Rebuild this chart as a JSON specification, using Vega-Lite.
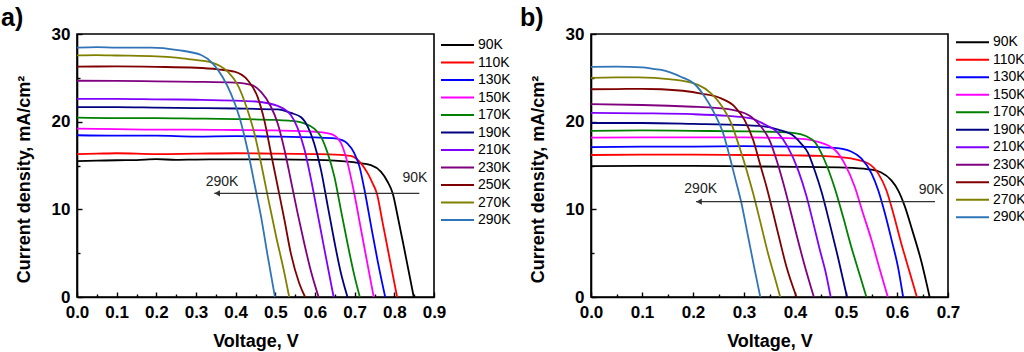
{
  "$schema": "https://vega.github.io/schema/vega-lite/v6.json",
  "padding": {"left": 0, "top": 5, "right": 0, "bottom": 0},
  "bounds": "flush",
  "spacing": 157,
  "datasets": {
    "curves_a": [
      {"T":"90K","V":0,"J":15.5},{"T":"90K","V":0.05,"J":15.55},{"T":"90K","V":0.1,"J":15.6},{"T":"90K","V":0.15,"J":15.62},{"T":"90K","V":0.2,"J":15.72},{"T":"90K","V":0.25,"J":15.65},{"T":"90K","V":0.3,"J":15.68},{"T":"90K","V":0.4,"J":15.7},{"T":"90K","V":0.5,"J":15.7},{"T":"90K","V":0.6,"J":15.65},{"T":"90K","V":0.65,"J":15.55},{"T":"90K","V":0.708,"J":15.3},{"T":"90K","V":0.741,"J":15.05},{"T":"90K","V":0.766,"J":14.3},{"T":"90K","V":0.783,"J":13.15},{"T":"90K","V":0.796,"J":11.8},{"T":"90K","V":0.808,"J":9.3},{"T":"90K","V":0.825,"J":5.5},{"T":"90K","V":0.849,"J":0},
      {"T":"110K","V":0,"J":16.3},{"T":"110K","V":0.05,"J":16.35},{"T":"110K","V":0.1,"J":16.4},{"T":"110K","V":0.2,"J":16.3},{"T":"110K","V":0.3,"J":16.35},{"T":"110K","V":0.4,"J":16.4},{"T":"110K","V":0.5,"J":16.35},{"T":"110K","V":0.6,"J":16.3},{"T":"110K","V":0.65,"J":16.25},{"T":"110K","V":0.69,"J":16.1},{"T":"110K","V":0.716,"J":15.25},{"T":"110K","V":0.733,"J":14.1},{"T":"110K","V":0.745,"J":13.0},{"T":"110K","V":0.756,"J":11.8},{"T":"110K","V":0.77,"J":8.6},{"T":"110K","V":0.785,"J":5.1},{"T":"110K","V":0.807,"J":0},
      {"T":"130K","V":0,"J":18.45},{"T":"130K","V":0.1,"J":18.4},{"T":"130K","V":0.2,"J":18.4},{"T":"130K","V":0.3,"J":18.3},{"T":"130K","V":0.4,"J":18.35},{"T":"130K","V":0.5,"J":18.3},{"T":"130K","V":0.6,"J":18.2},{"T":"130K","V":0.65,"J":18.1},{"T":"130K","V":0.668,"J":17.9},{"T":"130K","V":0.682,"J":17.5},{"T":"130K","V":0.699,"J":16.4},{"T":"130K","V":0.712,"J":14.9},{"T":"130K","V":0.724,"J":12.4},{"T":"130K","V":0.741,"J":8.2},{"T":"130K","V":0.758,"J":4.1},{"T":"130K","V":0.777,"J":0},
      {"T":"150K","V":0,"J":19.2},{"T":"150K","V":0.1,"J":19.15},{"T":"150K","V":0.2,"J":19.1},{"T":"150K","V":0.3,"J":19.1},{"T":"150K","V":0.4,"J":19.05},{"T":"150K","V":0.5,"J":19.0},{"T":"150K","V":0.6,"J":18.85},{"T":"150K","V":0.63,"J":18.7},{"T":"150K","V":0.65,"J":18.4},{"T":"150K","V":0.665,"J":17.6},{"T":"150K","V":0.682,"J":15.3},{"T":"150K","V":0.699,"J":11.8},{"T":"150K","V":0.716,"J":7.7},{"T":"150K","V":0.733,"J":3.6},{"T":"150K","V":0.748,"J":0},
      {"T":"170K","V":0,"J":20.45},{"T":"170K","V":0.1,"J":20.4},{"T":"170K","V":0.2,"J":20.4},{"T":"170K","V":0.3,"J":20.35},{"T":"170K","V":0.4,"J":20.3},{"T":"170K","V":0.5,"J":20.2},{"T":"170K","V":0.539,"J":20.1},{"T":"170K","V":0.573,"J":19.8},{"T":"170K","V":0.598,"J":19.2},{"T":"170K","V":0.615,"J":18.3},{"T":"170K","V":0.632,"J":16.4},{"T":"170K","V":0.649,"J":13.7},{"T":"170K","V":0.665,"J":10.0},{"T":"170K","V":0.682,"J":6.1},{"T":"170K","V":0.699,"J":2.5},{"T":"170K","V":0.713,"J":0},
      {"T":"190K","V":0,"J":21.65},{"T":"190K","V":0.1,"J":21.65},{"T":"190K","V":0.2,"J":21.6},{"T":"190K","V":0.3,"J":21.55},{"T":"190K","V":0.4,"J":21.5},{"T":"190K","V":0.506,"J":21.4},{"T":"190K","V":0.539,"J":21.0},{"T":"190K","V":0.565,"J":20.5},{"T":"190K","V":0.582,"J":19.4},{"T":"190K","V":0.598,"J":17.5},{"T":"190K","V":0.615,"J":14.5},{"T":"190K","V":0.632,"J":10.4},{"T":"190K","V":0.649,"J":6.3},{"T":"190K","V":0.665,"J":2.8},{"T":"190K","V":0.682,"J":0},
      {"T":"210K","V":0,"J":22.6},{"T":"210K","V":0.1,"J":22.6},{"T":"210K","V":0.2,"J":22.55},{"T":"210K","V":0.3,"J":22.5},{"T":"210K","V":0.4,"J":22.4},{"T":"210K","V":0.45,"J":22.3},{"T":"210K","V":0.506,"J":21.8},{"T":"210K","V":0.539,"J":20.76},{"T":"210K","V":0.556,"J":19.3},{"T":"210K","V":0.573,"J":16.9},{"T":"210K","V":0.59,"J":13.4},{"T":"210K","V":0.607,"J":9.4},{"T":"210K","V":0.623,"J":5.6},{"T":"210K","V":0.647,"J":0},
      {"T":"230K","V":0,"J":24.67},{"T":"230K","V":0.1,"J":24.65},{"T":"230K","V":0.2,"J":24.6},{"T":"230K","V":0.3,"J":24.55},{"T":"230K","V":0.397,"J":24.45},{"T":"230K","V":0.439,"J":24.2},{"T":"230K","V":0.464,"J":23.4},{"T":"230K","V":0.489,"J":21.7},{"T":"230K","V":0.506,"J":19.8},{"T":"230K","V":0.523,"J":16.8},{"T":"230K","V":0.539,"J":13.35},{"T":"230K","V":0.556,"J":9.6},{"T":"230K","V":0.573,"J":6.1},{"T":"230K","V":0.59,"J":2.9},{"T":"230K","V":0.609,"J":0},
      {"T":"250K","V":0,"J":26.27},{"T":"250K","V":0.1,"J":26.3},{"T":"250K","V":0.2,"J":26.25},{"T":"250K","V":0.3,"J":26.15},{"T":"250K","V":0.355,"J":25.97},{"T":"250K","V":0.397,"J":25.7},{"T":"250K","V":0.43,"J":24.75},{"T":"250K","V":0.455,"J":22.85},{"T":"250K","V":0.472,"J":20.2},{"T":"250K","V":0.489,"J":16.4},{"T":"250K","V":0.506,"J":12.6},{"T":"250K","V":0.523,"J":8.78},{"T":"250K","V":0.539,"J":5.0},{"T":"250K","V":0.56,"J":1.6},{"T":"250K","V":0.575,"J":0},
      {"T":"270K","V":0,"J":27.56},{"T":"270K","V":0.05,"J":27.6},{"T":"270K","V":0.1,"J":27.55},{"T":"270K","V":0.2,"J":27.45},{"T":"270K","V":0.25,"J":27.3},{"T":"270K","V":0.287,"J":27.1},{"T":"270K","V":0.338,"J":26.77},{"T":"270K","V":0.38,"J":25.7},{"T":"270K","V":0.405,"J":24.2},{"T":"270K","V":0.43,"J":21.3},{"T":"270K","V":0.447,"J":18.7},{"T":"270K","V":0.464,"J":15.25},{"T":"270K","V":0.481,"J":11.45},{"T":"270K","V":0.502,"J":6.9},{"T":"270K","V":0.523,"J":2.7},{"T":"270K","V":0.535,"J":0},
      {"T":"290K","V":0,"J":28.44},{"T":"290K","V":0.05,"J":28.5},{"T":"290K","V":0.1,"J":28.45},{"T":"290K","V":0.187,"J":28.45},{"T":"290K","V":0.254,"J":28.17},{"T":"290K","V":0.313,"J":27.6},{"T":"290K","V":0.342,"J":26.65},{"T":"290K","V":0.367,"J":25.1},{"T":"290K","V":0.388,"J":23.2},{"T":"290K","V":0.409,"J":20.6},{"T":"290K","V":0.43,"J":16.8},{"T":"290K","V":0.447,"J":13.0},{"T":"290K","V":0.464,"J":9.16},{"T":"290K","V":0.481,"J":4.6},{"T":"290K","V":0.499,"J":0}
    ],
    "curves_b": [
      {"T":"90K","V":0,"J":14.94},{"T":"90K","V":0.1,"J":14.95},{"T":"90K","V":0.2,"J":14.95},{"T":"90K","V":0.3,"J":14.9},{"T":"90K","V":0.4,"J":14.85},{"T":"90K","V":0.5,"J":14.75},{"T":"90K","V":0.543,"J":14.57},{"T":"90K","V":0.569,"J":14.2},{"T":"90K","V":0.589,"J":13.3},{"T":"90K","V":0.602,"J":12.2},{"T":"90K","V":0.615,"J":10.4},{"T":"90K","V":0.63,"J":7.6},{"T":"90K","V":0.648,"J":4.0},{"T":"90K","V":0.664,"J":0},
      {"T":"110K","V":0,"J":16.2},{"T":"110K","V":0.1,"J":16.25},{"T":"110K","V":0.2,"J":16.25},{"T":"110K","V":0.3,"J":16.2},{"T":"110K","V":0.4,"J":16.15},{"T":"110K","V":0.45,"J":16.1},{"T":"110K","V":0.51,"J":15.8},{"T":"110K","V":0.543,"J":15.25},{"T":"110K","V":0.563,"J":14.1},{"T":"110K","V":0.579,"J":12.2},{"T":"110K","V":0.592,"J":9.7},{"T":"110K","V":0.608,"J":6.2},{"T":"110K","V":0.625,"J":2.8},{"T":"110K","V":0.639,"J":0},
      {"T":"130K","V":0,"J":17.1},{"T":"130K","V":0.1,"J":17.15},{"T":"130K","V":0.2,"J":17.15},{"T":"130K","V":0.3,"J":17.2},{"T":"130K","V":0.4,"J":17.15},{"T":"130K","V":0.478,"J":17.0},{"T":"130K","V":0.51,"J":16.6},{"T":"130K","V":0.53,"J":15.8},{"T":"130K","V":0.55,"J":14.1},{"T":"130K","V":0.563,"J":12.2},{"T":"130K","V":0.576,"J":9.6},{"T":"130K","V":0.589,"J":6.6},{"T":"130K","V":0.602,"J":3.4},{"T":"130K","V":0.612,"J":0},
      {"T":"150K","V":0,"J":18.17},{"T":"150K","V":0.1,"J":18.2},{"T":"150K","V":0.2,"J":18.2},{"T":"150K","V":0.3,"J":18.2},{"T":"150K","V":0.4,"J":18.1},{"T":"150K","V":0.445,"J":17.7},{"T":"150K","V":0.478,"J":16.8},{"T":"150K","V":0.497,"J":15.25},{"T":"150K","V":0.517,"J":12.6},{"T":"150K","V":0.533,"J":9.6},{"T":"150K","V":0.55,"J":6.5},{"T":"150K","V":0.566,"J":3.2},{"T":"150K","V":0.582,"J":0},
      {"T":"170K","V":0,"J":18.95},{"T":"170K","V":0.1,"J":19.0},{"T":"170K","V":0.2,"J":18.95},{"T":"170K","V":0.3,"J":18.9},{"T":"170K","V":0.35,"J":18.85},{"T":"170K","V":0.399,"J":18.7},{"T":"170K","V":0.42,"J":18.4},{"T":"170K","V":0.44,"J":17.6},{"T":"170K","V":0.458,"J":15.6},{"T":"170K","V":0.478,"J":12.4},{"T":"170K","V":0.494,"J":9.2},{"T":"170K","V":0.51,"J":5.8},{"T":"170K","V":0.527,"J":2.5},{"T":"170K","V":0.54,"J":0},
      {"T":"190K","V":0,"J":19.85},{"T":"190K","V":0.1,"J":19.85},{"T":"190K","V":0.2,"J":19.75},{"T":"190K","V":0.3,"J":19.6},{"T":"190K","V":0.334,"J":19.5},{"T":"190K","V":0.367,"J":19.1},{"T":"190K","V":0.399,"J":18.3},{"T":"190K","V":0.412,"J":17.5},{"T":"190K","V":0.425,"J":16.5},{"T":"190K","V":0.44,"J":14.2},{"T":"190K","V":0.452,"J":12.0},{"T":"190K","V":0.468,"J":8.4},{"T":"190K","V":0.484,"J":4.6},{"T":"190K","V":0.502,"J":0},
      {"T":"210K","V":0,"J":21.0},{"T":"210K","V":0.1,"J":20.95},{"T":"210K","V":0.2,"J":20.85},{"T":"210K","V":0.269,"J":20.65},{"T":"210K","V":0.314,"J":20.38},{"T":"210K","V":0.34,"J":19.7},{"T":"210K","V":0.367,"J":18.7},{"T":"210K","V":0.386,"J":17.1},{"T":"210K","V":0.406,"J":14.5},{"T":"210K","V":0.422,"J":11.6},{"T":"210K","V":0.436,"J":8.4},{"T":"210K","V":0.449,"J":5.3},{"T":"210K","V":0.459,"J":3.1},{"T":"210K","V":0.47,"J":0},
      {"T":"230K","V":0,"J":22.0},{"T":"230K","V":0.1,"J":21.9},{"T":"230K","V":0.2,"J":21.7},{"T":"230K","V":0.236,"J":21.6},{"T":"230K","V":0.282,"J":21.3},{"T":"230K","V":0.314,"J":20.57},{"T":"230K","V":0.334,"J":19.4},{"T":"230K","V":0.35,"J":17.9},{"T":"230K","V":0.364,"J":15.6},{"T":"230K","V":0.377,"J":13.0},{"T":"230K","V":0.39,"J":10.1},{"T":"230K","V":0.403,"J":7.1},{"T":"230K","V":0.417,"J":4.0},{"T":"230K","V":0.437,"J":0},
      {"T":"250K","V":0,"J":23.7},{"T":"250K","V":0.05,"J":23.72},{"T":"250K","V":0.1,"J":23.75},{"T":"250K","V":0.138,"J":23.7},{"T":"250K","V":0.216,"J":23.2},{"T":"250K","V":0.255,"J":22.65},{"T":"250K","V":0.282,"J":21.7},{"T":"250K","V":0.301,"J":20.2},{"T":"250K","V":0.318,"J":17.9},{"T":"250K","V":0.331,"J":15.25},{"T":"250K","V":0.344,"J":12.6},{"T":"250K","V":0.357,"J":9.6},{"T":"250K","V":0.37,"J":6.5},{"T":"250K","V":0.383,"J":3.5},{"T":"250K","V":0.403,"J":0},
      {"T":"270K","V":0,"J":25.0},{"T":"270K","V":0.05,"J":25.05},{"T":"270K","V":0.092,"J":25.06},{"T":"270K","V":0.157,"J":24.83},{"T":"270K","V":0.21,"J":24.2},{"T":"270K","V":0.236,"J":23.2},{"T":"270K","V":0.255,"J":21.9},{"T":"270K","V":0.275,"J":19.8},{"T":"270K","V":0.291,"J":17.1},{"T":"270K","V":0.305,"J":14.5},{"T":"270K","V":0.318,"J":11.8},{"T":"270K","V":0.331,"J":8.8},{"T":"270K","V":0.347,"J":5.0},{"T":"270K","V":0.36,"J":2.3},{"T":"270K","V":0.371,"J":0},
      {"T":"290K","V":0,"J":26.25},{"T":"290K","V":0.05,"J":26.27},{"T":"290K","V":0.1,"J":26.2},{"T":"290K","V":0.125,"J":26.0},{"T":"290K","V":0.138,"J":25.9},{"T":"290K","V":0.177,"J":25.1},{"T":"290K","V":0.203,"J":24.3},{"T":"290K","V":0.223,"J":22.85},{"T":"290K","V":0.242,"J":20.95},{"T":"290K","V":0.259,"J":18.7},{"T":"290K","V":0.272,"J":16.0},{"T":"290K","V":0.282,"J":13.7},{"T":"290K","V":0.295,"J":10.7},{"T":"290K","V":0.308,"J":6.9},{"T":"290K","V":0.321,"J":3.1},{"T":"290K","V":0.332,"J":0}
    ],
    "arrow_a": [{"x1": 0.346, "x2": 0.863, "y": 11.83}],
    "arrow_b": [{"x1": 0.206, "x2": 0.6745, "y": 10.87}],
    "labels_a": [{"V": 0.3655, "J": 12.7, "label": "290K"}, {"V": 0.852, "J": 13.15, "label": "90K"}],
    "labels_b": [{"V": 0.215, "J": 11.83, "label": "290K"}, {"V": 0.667, "J": 11.75, "label": "90K"}]
  },
  "hconcat": [
    {
      "width": 357,
      "height": 263,
      "title": {"text": "a)", "anchor": "start", "frame": "group", "dx": -76, "offset": -26, "baseline": "alphabetic", "fontSize": 25, "fontWeight": "bold", "color": "#000"},
      "layer": [
        {
          "data": {"name": "curves_a"},
          "mark": {"type": "line", "interpolate": "monotone", "strokeWidth": 1.8},
          "encoding": {
            "x": {"field": "V", "type": "quantitative", "scale": {"domain": [0, 0.9], "nice": false, "zero": false},
              "axis": {"title": "Voltage, V", "values": [0,0.05,0.1,0.15,0.2,0.25,0.3,0.35,0.4,0.45,0.5,0.55,0.6,0.65,0.7,0.75,0.8,0.85,0.9], "format": ".1f",
                "tickCount": 100, "labelOverlap": false, "labelBound": false,
                "labelExpr": "round(datum.value*100) % 10 == 0 ? datum.label : ''",
                "tickSize": {"condition": {"test": "round(datum.value*100) % 10 == 0", "value": -5}, "value": -3}}},
            "y": {"field": "J", "type": "quantitative", "scale": {"domain": [0, 30], "nice": false},
              "axis": {"title": "Current density, mA/cm²", "values": [0,5,10,15,20,25,30], "format": "d", "tickCount": 100, "labelOverlap": false,
                "labelExpr": "datum.value % 10 == 0 ? datum.label : ''",
                "tickSize": {"condition": {"test": "datum.value % 10 == 0", "value": -5}, "value": -3},
                "titleX": -48, "titleY": 145, "titleAngle": 270, "titleAlign": "center", "titleBaseline": "alphabetic"}},
            "color": {"field": "T", "type": "nominal",
              "scale": {"domain": ["90K","110K","130K","150K","170K","190K","210K","230K","250K","270K","290K"],
                "range": ["#000000","#FF0000","#0000FF","#FF00FF","#008000","#000080","#8000FF","#800080","#800000","#808000","#3074B8"]},
              "legend": {"orient": "none", "legendX": 363, "legendY": 4}}
          }
        },
        {
          "data": {"name": "arrow_a"},
          "mark": {"type": "rule", "color": "#333", "strokeWidth": 1.2},
          "encoding": {
            "x": {"field": "x1", "type": "quantitative", "scale": {"domain": [0, 0.9], "nice": false, "zero": false}},
            "x2": {"field": "x2"},
            "y": {"field": "y", "type": "quantitative", "scale": {"domain": [0, 30], "nice": false}}
          }
        },
        {
          "data": {"name": "arrow_a"},
          "mark": {"type": "point", "shape": "triangle-left", "filled": true, "color": "#333", "size": 40, "opacity": 1, "xOffset": 3},
          "encoding": {
            "x": {"field": "x1", "type": "quantitative", "scale": {"domain": [0, 0.9], "nice": false, "zero": false}},
            "y": {"field": "y", "type": "quantitative", "scale": {"domain": [0, 30], "nice": false}}
          }
        },
        {
          "data": {"name": "labels_a"},
          "mark": {"type": "text", "fontSize": 14, "baseline": "alphabetic", "align": "center", "color": "#222"},
          "encoding": {
            "x": {"field": "V", "type": "quantitative", "scale": {"domain": [0, 0.9], "nice": false, "zero": false}},
            "y": {"field": "J", "type": "quantitative", "scale": {"domain": [0, 30], "nice": false}},
            "text": {"field": "label"}
          }
        }
      ]
    },
    {
      "width": 357,
      "height": 263,
      "title": {"text": "b)", "anchor": "start", "frame": "group", "dx": -71, "offset": -26, "baseline": "alphabetic", "fontSize": 25, "fontWeight": "bold", "color": "#000"},
      "layer": [
        {
          "data": {"name": "curves_b"},
          "mark": {"type": "line", "interpolate": "monotone", "strokeWidth": 1.8},
          "encoding": {
            "x": {"field": "V", "type": "quantitative", "scale": {"domain": [0, 0.7], "nice": false, "zero": false},
              "axis": {"title": "Voltage, V", "values": [0,0.05,0.1,0.15,0.2,0.25,0.3,0.35,0.4,0.45,0.5,0.55,0.6,0.65,0.7], "format": ".1f",
                "tickCount": 100, "labelOverlap": false, "labelBound": false,
                "labelExpr": "round(datum.value*100) % 10 == 0 ? datum.label : ''",
                "tickSize": {"condition": {"test": "round(datum.value*100) % 10 == 0", "value": -5}, "value": -3}}},
            "y": {"field": "J", "type": "quantitative", "scale": {"domain": [0, 30], "nice": false},
              "axis": {"title": "Current density, mA/cm²", "values": [0,5,10,15,20,25,30], "format": "d", "tickCount": 100, "labelOverlap": false,
                "labelExpr": "datum.value % 10 == 0 ? datum.label : ''",
                "tickSize": {"condition": {"test": "datum.value % 10 == 0", "value": -5}, "value": -3},
                "titleX": -48, "titleY": 145, "titleAngle": 270, "titleAlign": "center", "titleBaseline": "alphabetic"}},
            "color": {"field": "T", "type": "nominal",
              "scale": {"domain": ["90K","110K","130K","150K","170K","190K","210K","230K","250K","270K","290K"],
                "range": ["#000000","#FF0000","#0000FF","#FF00FF","#008000","#000080","#8000FF","#800080","#800000","#808000","#3074B8"]},
              "legend": {"orient": "none", "legendX": 364, "legendY": 1.3}}
          }
        },
        {
          "data": {"name": "arrow_b"},
          "mark": {"type": "rule", "color": "#333", "strokeWidth": 1.2},
          "encoding": {
            "x": {"field": "x1", "type": "quantitative", "scale": {"domain": [0, 0.7], "nice": false, "zero": false}},
            "x2": {"field": "x2"},
            "y": {"field": "y", "type": "quantitative", "scale": {"domain": [0, 30], "nice": false}}
          }
        },
        {
          "data": {"name": "arrow_b"},
          "mark": {"type": "point", "shape": "triangle-left", "filled": true, "color": "#333", "size": 40, "opacity": 1, "xOffset": 3},
          "encoding": {
            "x": {"field": "x1", "type": "quantitative", "scale": {"domain": [0, 0.7], "nice": false, "zero": false}},
            "y": {"field": "y", "type": "quantitative", "scale": {"domain": [0, 30], "nice": false}}
          }
        },
        {
          "data": {"name": "labels_b"},
          "mark": {"type": "text", "fontSize": 14, "baseline": "alphabetic", "align": "center", "color": "#222"},
          "encoding": {
            "x": {"field": "V", "type": "quantitative", "scale": {"domain": [0, 0.7], "nice": false, "zero": false}},
            "y": {"field": "J", "type": "quantitative", "scale": {"domain": [0, 30], "nice": false}},
            "text": {"field": "label"}
          }
        }
      ]
    }
  ],
  "resolve": {"scale": {"color": "independent"}, "legend": {"color": "independent"}},
  "config": {
    "font": "Liberation Sans",
    "background": "#ffffff",
    "view": {"stroke": "#000000", "strokeWidth": 1.6},
    "axis": {
      "grid": false,
      "domainColor": "#000000",
      "domainWidth": 1.6,
      "tickColor": "#000000",
      "tickWidth": 1.4,
      "labelPadding": 12,
      "labelFlush": false,
      "labelOverlap": false,
      "labelFontSize": 17,
      "labelFontWeight": "bold",
      "labelColor": "#000000",
      "titleFontSize": 18,
      "titleFontWeight": "bold",
      "titleColor": "#000000"
    },
    "axisX": {"titleY": 49.5, "titleBaseline": "alphabetic", "labelOverlap": false},
    "legend": {
      "title": null,
      "symbolType": "stroke",
      "symbolSize": 1089,
      "symbolStrokeWidth": 2,
      "labelFontSize": 14,
      "labelColor": "#000000",
      "labelOffset": 3,
      "rowPadding": 3.5,
      "clipHeight": 14,
      "padding": 0
    }
  }
}
